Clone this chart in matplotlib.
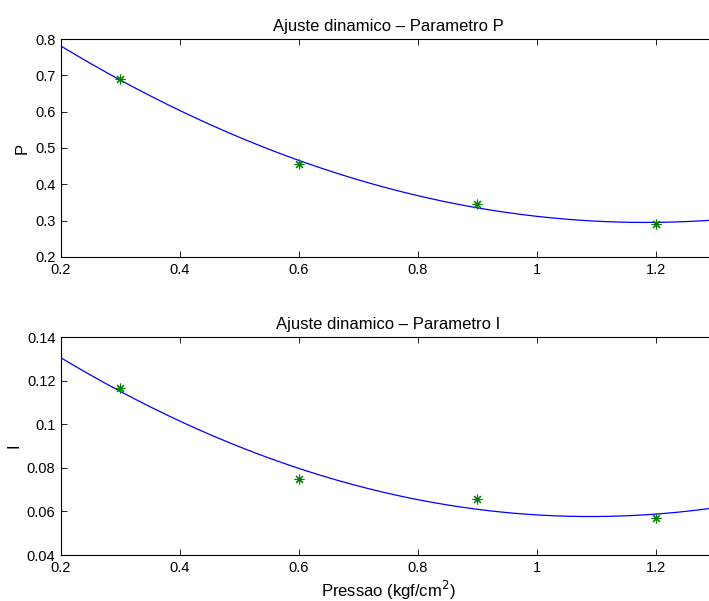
import numpy as np
import matplotlib
matplotlib.use("Agg")
import matplotlib.pyplot as plt

plt.rcParams['font.family'] = ['Liberation Sans', 'DejaVu Sans']

# measured points
pressao = [0.3, 0.6, 0.9, 1.2]
param_p = [0.690, 0.456, 0.345, 0.292]
param_i = [0.1166, 0.0750, 0.0657, 0.0572]

# quadratic fit, evaluated across the plotted range
x_fit = np.linspace(0.2, 1.3, 300)
fit_p = np.polyval(np.polyfit(pressao, param_p, 2), x_fit)
fit_i = np.polyval(np.polyfit(pressao, param_i, 2), x_fit)

fig = plt.figure(figsize=(7.09, 6.01), dpi=100)
ax1 = fig.add_axes([0.086, 0.5724, 0.923, 0.3627])
ax2 = fig.add_axes([0.086, 0.0765, 0.923, 0.3627])

def style(ax):
    ax.tick_params(direction='in', top=True, right=True, labelsize=10.5,
                   length=4, width=0.6, pad=4)
    for s in ax.spines.values():
        s.set_linewidth(0.8)

ax1.plot(x_fit, fit_p, color='#0000ff', lw=0.9)
ax1.plot(pressao, param_p, ls='none', marker=(8, 2, 0), ms=7, mew=0.8,
         color='#008000')
ax1.set_xlim(0.2, 1.3)
ax1.set_ylim(0.2, 0.8)
ax1.set_xticks([0.2, 0.4, 0.6, 0.8, 1.0, 1.2])
ax1.set_xticklabels(['0.2', '0.4', '0.6', '0.8', '1', '1.2'])
ax1.set_yticks(np.arange(0.2, 0.81, 0.1))
ax1.set_yticklabels(['0.2', '0.3', '0.4', '0.5', '0.6', '0.7', '0.8'])
ax1.set_ylabel('P', fontsize=12)
ax1.set_title('Ajuste dinamico \u2013 Parametro P', fontsize=12, pad=6)
style(ax1)

ax2.plot(x_fit, fit_i, color='#0000ff', lw=0.9)
ax2.plot(pressao, param_i, ls='none', marker=(8, 2, 0), ms=7, mew=0.8,
         color='#008000')
ax2.set_xlim(0.2, 1.3)
ax2.set_ylim(0.04, 0.14)
ax2.set_xticks([0.2, 0.4, 0.6, 0.8, 1.0, 1.2])
ax2.set_xticklabels(['0.2', '0.4', '0.6', '0.8', '1', '1.2'])
ax2.set_yticks([0.04, 0.06, 0.08, 0.1, 0.12, 0.14])
ax2.set_yticklabels(['0.04', '0.06', '0.08', '0.1', '0.12', '0.14'])
ax2.set_ylabel('I', fontsize=12)
ax2.set_xlabel('Pressao (kgf/cm$^2$)', fontsize=12, labelpad=3)
ax2.set_title('Ajuste dinamico \u2013 Parametro I', fontsize=12, pad=6)
style(ax2)

fig.savefig('out.png', dpi=100)
